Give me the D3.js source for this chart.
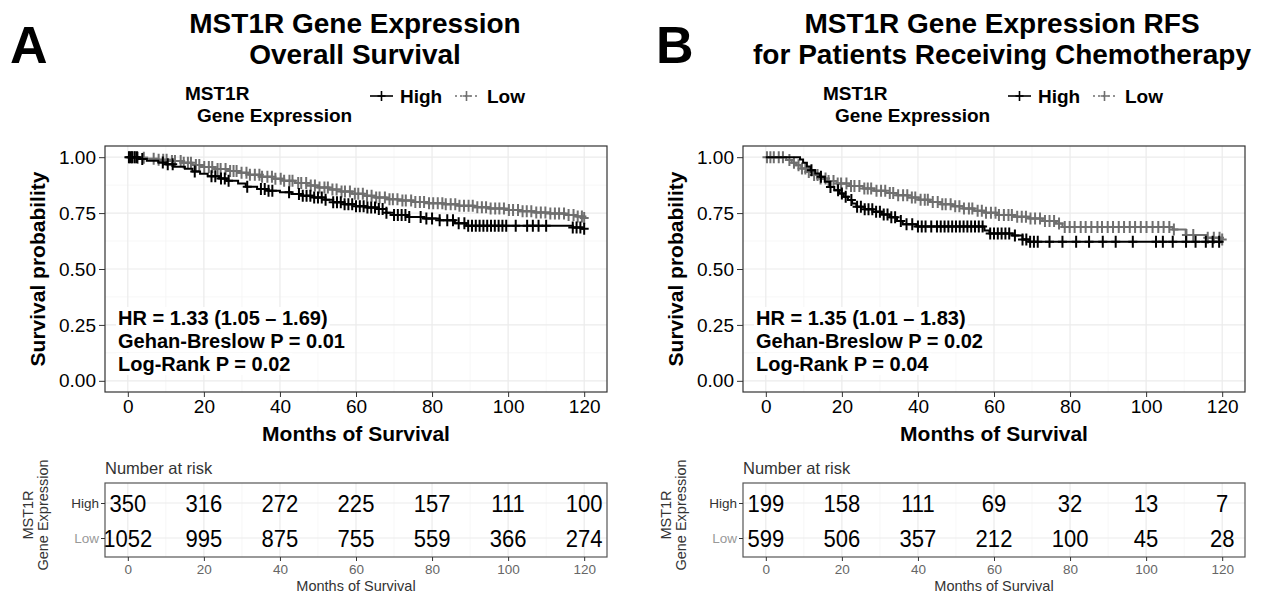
<!DOCTYPE html>
<html lang="en">
<head>
<meta charset="UTF-8">
<title>MST1R Gene Expression - Kaplan-Meier</title>
<script src="https://d3js.org/d3.v7.min.js"></script>
<style>
    body { margin: 0; background: #fff; }
    svg { font-family: Arial, "Liberation Sans", sans-serif; display: block; }
</style>
</head>
<body>
<svg id="chart" width="1266" height="597"></svg>
<script>
// ---- shared ----
const months = [0, 20, 40, 60, 80, 100, 120];
const minorMonths = [10, 30, 50, 70, 90, 110];
const survTicks = [0, 0.25, 0.5, 0.75, 1];
const minorSurv = [0.125, 0.375, 0.625, 0.875];
const groups = ["High", "Low"];

// ---- panel A: overall survival ----
const aTitle = ["MST1R Gene Expression", "Overall Survival"];
const aStats = ["HR = 1.33 (1.05 \u2013 1.69)", "Gehan-Breslow  P = 0.01", "Log-Rank P = 0.02"];
const aHighSteps = [[0,1],[3,0.992],[5,0.984],[8,0.976],[10,0.968],[12,0.957],[15,0.948],[17,0.936],[19,0.926],[21,0.915],[24,0.905],[26,0.895],[29,0.882],[31,0.868],[34,0.858],[37,0.85],[40,0.843],[43,0.835],[46,0.828],[49,0.82],[52,0.81],[54,0.798],[57,0.79],[60,0.781],[63,0.775],[66,0.768],[68,0.752],[70,0.741],[74,0.733],[78,0.726],[82,0.718],[86,0.705],[89,0.693],[117,0.686],[119.5,0.68],[120,0.68]];
const aLowSteps = [[0,1],[2,0.998],[5,0.993],[8,0.989],[11,0.983],[14,0.975],[17,0.965],[20,0.956],[23,0.947],[26,0.938],[29,0.93],[32,0.922],[35,0.913],[38,0.904],[41,0.895],[44,0.885],[47,0.873],[50,0.864],[53,0.855],[56,0.846],[59,0.837],[62,0.828],[65,0.82],[68,0.812],[71,0.806],[75,0.8],[79,0.794],[83,0.789],[87,0.783],[91,0.776],[95,0.77],[99,0.764],[103,0.758],[107,0.753],[111,0.748],[115,0.742],[118,0.735],[120,0.728]];
const aHighCensor = [0.3,0.8,1.2,1.8,2.4,3.8,9.2,10.5,11.8,17.6,22,23,24.5,25.5,26.5,31.4,35,36,37,38,42.4,45,46,47,48,49,50,51,52,54,55,56,57,58,59,60,61,62,63,64,65,66,67,68,70,71,72,73,74,77,78.5,80,82,84,85.5,87,88.5,89.5,90.5,91.5,92.5,93.5,94.5,95.5,96.5,97.5,98.5,99.5,102,105,106.5,108,110,117,118,119,120];
const aLowCensor = [0.4,1.1,1.9,2.6,4.2,6.8,8.1,9.3,10.2,11.6,12.4,13.9,14.7,15.8,16.6,17.9,18.8,20.1,21.3,22.2,23.6,24.4,25.7,26.9,27.8,28.6,29.9,31.2,32.1,33.4,34.6,35.3,36.7,37.9,38.8,40.2,41.1,42.5,43.3,44.8,45.6,46.9,48.1,49.2,50.4,51.7,52.6,53.8,54.9,56.2,57.1,58.4,59.7,60.6,61.8,62.9,64.1,65.3,66.2,67.6,68.8,69.7,70.9,72.2,73.1,74.5,75.6,76.8,77.9,79.2,80.3,81.5,82.7,83.6,84.9,86.1,87.2,88.4,89.6,90.7,91.9,93.1,94.2,95.4,96.6,97.7,98.9,100.2,101.3,102.6,103.8,104.9,106.1,107.4,108.6,109.8,111.1,112.3,113.4,114.7,115.9,117.2,118.3,119.4,120];
const aRiskHigh = [350, 316, 272, 225, 157, 111, 100];
const aRiskLow = [1052, 995, 875, 755, 559, 366, 274];

// ---- panel B: RFS, chemotherapy ----
const bTitle = ["MST1R Gene Expression RFS", "for Patients Receiving Chemotherapy"];
const bStats = ["HR = 1.35 (1.01 \u2013 1.83)", "Gehan-Breslow  P = 0.02", "Log-Rank P = 0.04"];
const bHighSteps = [[0,1],[9,0.99],[9.8,0.975],[10.8,0.958],[11.8,0.942],[13,0.927],[14.2,0.912],[15.5,0.89],[16.8,0.867],[18,0.852],[19.4,0.838],[20.5,0.823],[21.6,0.808],[22.7,0.793],[23.8,0.778],[26,0.767],[28.1,0.756],[30.5,0.744],[32.6,0.731],[34.5,0.715],[36,0.7],[39.6,0.69],[57.5,0.672],[58.8,0.659],[64.9,0.65],[67.5,0.632],[69.3,0.622],[120,0.622]];
const bLowSteps = [[0,1],[5.4,0.987],[6.8,0.975],[8,0.964],[9.3,0.949],[10.7,0.934],[12.4,0.92],[14.2,0.905],[16.4,0.893],[18.6,0.882],[22,0.871],[25.6,0.86],[28.5,0.85],[31.5,0.84],[34.4,0.83],[37.3,0.82],[40.2,0.81],[43.2,0.8],[46.1,0.79],[49,0.781],[51.9,0.771],[54.8,0.761],[57.8,0.751],[60.7,0.741],[65,0.734],[69.3,0.726],[72.8,0.715],[76.3,0.704],[78,0.688],[107,0.677],[110.4,0.652],[116,0.64],[120,0.632]];
const bHighCensor = [12,14.5,17,19,20,21,22.5,24,25,26,27,28,29,30,31,32,33,34,35.5,37,38.5,40,41,42,43.5,45,46,47,48,49,50,51,52,53,54,55,56,57,59,60,61,62,63,64,65.5,67.5,68.5,69.5,70.5,71.5,74.6,78,81.6,85,88.6,92,96.5,102.6,104.4,107,110.5,113,115.7,117.5,119.2];
const bLowCensor = [0.3,1.2,2.1,3.4,4.5,6.2,7.4,8.6,9.5,10.4,11.3,12.7,13.6,14.4,15.7,16.5,17.8,18.9,19.8,21.2,22.4,23.3,24.6,25.9,26.8,27.7,29.1,30.3,31.4,32.6,33.5,34.8,36.1,37.2,38.4,39.3,40.7,41.8,42.6,43.9,45.2,46.4,47.3,48.6,49.8,50.9,52.1,53.4,54.3,55.7,56.8,57.9,59.2,60.4,61.3,62.6,63.8,64.7,66.1,67.3,68.4,69.6,70.8,72.1,73.4,74.6,75.8,77.1,78.6,79.9,81.2,82.8,84.1,85.6,87.2,88.4,89.9,91.3,92.8,94.2,95.7,97.1,98.6,100.1,101.7,103.2,104.6,106.1,107.3,110.6,112.4,116.2,117.8,119.3,120];
const bRiskHigh = [199, 158, 111, 69, 32, 13, 7];
const bRiskLow = [599, 506, 357, 212, 100, 45, 28];

const colors = { High: "#000000", Low: "#6f6f6f" };
const gridMajor = "#ebebeb", gridMinor = "#f5f5f5", border = "#333333";

const svg = d3.select("#chart");

function survAt(steps, t) {
    let s = steps[0][1];
    steps.forEach(d => { if (d[0] <= t) s = d[1]; });
    return s;
}

function drawPanel(p) {
    const L = p.left, W = 502;
    const x = d3.scaleLinear().domain([-6, 126]).range([L, L + W]);
    const y = d3.scaleLinear().domain([-0.05, 1.05]).range([392, 146]);
    const g = svg.append("g");

    // panel letter + title
    svg.append("text").attr("x", p.letterX).attr("y", 63)
        .attr("font-size", 52).attr("font-weight", "bold").text(p.letter);
    p.title.forEach((t, i) => {
        svg.append("text").attr("x", p.titleX).attr("y", 33 + i * 31)
            .attr("text-anchor", "middle").attr("font-size", 28)
            .attr("font-weight", "bold").text(t);
    });

    // legend
    const lg = svg.append("g").attr("font-weight", "bold").attr("font-size", 19);
    lg.append("text").attr("x", L + 80).attr("y", 100).text("MST1R");
    lg.append("text").attr("x", L + 92).attr("y", 122).text("Gene Expression");
    [["High", L + 265, L + 295], ["Low", L + 350, L + 382]].forEach(([k, kx, tx]) => {
        lg.append("line").attr("x1", kx).attr("x2", kx + 23).attr("y1", 96).attr("y2", 96)
            .attr("stroke", colors[k]).attr("stroke-width", 1.6)
            .attr("stroke-dasharray", k === "Low" ? "2,3" : null);
        lg.append("path").attr("d", `M${kx + 7.5},96H${kx + 15.5}M${kx + 11.5},91V101`)
            .attr("stroke", colors[k]).attr("stroke-width", 1.6);
        lg.append("text").attr("x", tx).attr("y", 103).text(k);
    });

    // grid
    g.append("rect").attr("x", L).attr("y", 146).attr("width", W).attr("height", 246).attr("fill", "#fff");
    minorMonths.forEach(m => g.append("line").attr("x1", x(m)).attr("x2", x(m)).attr("y1", 146).attr("y2", 392)
        .attr("stroke", gridMinor).attr("stroke-width", 0.8));
    minorSurv.forEach(s => g.append("line").attr("x1", L).attr("x2", L + W).attr("y1", y(s)).attr("y2", y(s))
        .attr("stroke", gridMinor).attr("stroke-width", 0.8));
    months.forEach(m => g.append("line").attr("x1", x(m)).attr("x2", x(m)).attr("y1", 146).attr("y2", 392)
        .attr("stroke", gridMajor).attr("stroke-width", 1.2));
    survTicks.forEach(s => g.append("line").attr("x1", L).attr("x2", L + W).attr("y1", y(s)).attr("y2", y(s))
        .attr("stroke", gridMajor).attr("stroke-width", 1.2));

    // curves: Low first, High on top
    const line = d3.line().x(d => x(d[0])).y(d => y(d[1])).curve(d3.curveStepAfter);
    [["Low", p.lowSteps, p.lowCensor], ["High", p.highSteps, p.highCensor]].forEach(([k, steps, cens]) => {
        g.append("path").datum(steps).attr("d", line).attr("fill", "none")
            .attr("stroke", colors[k]).attr("stroke-width", 2);
        g.selectAll(null).data(cens).enter().append("path")
            .attr("transform", t => `translate(${x(t)},${y(survAt(steps, t))})`)
            .attr("d", "M-4.5,0H4.5M0,-6V6")
            .attr("stroke", colors[k]).attr("stroke-width", 2).attr("fill", "none");
    });

    // stats annotation with white label background
    p.stats.forEach((s, i) => {
        const t = g.append("text").attr("x", L + 13).attr("y", 325 + i * 23)
            .attr("font-size", 20).attr("font-weight", "bold").text(s);
        const bb = t.node().getBBox();
        g.insert("rect", () => t.node()).attr("x", bb.x - 2).attr("y", bb.y)
            .attr("width", bb.width + 4).attr("height", bb.height).attr("fill", "#fff");
    });

    g.append("rect").attr("x", L).attr("y", 146).attr("width", W).attr("height", 246)
        .attr("fill", "none").attr("stroke", border).attr("stroke-width", 1.2);

    // axes
    const xAxis = d3.axisBottom(x).tickValues(months).tickSize(5).tickPadding(3);
    const ax = svg.append("g").attr("transform", "translate(0,392)").call(xAxis);
    ax.select(".domain").remove();
    ax.selectAll("line").attr("stroke", border);
    ax.selectAll("text").attr("font-size", 19).attr("fill", "#000").attr("font-family", null);

    const yAxis = d3.axisLeft(y).tickValues(survTicks).tickFormat(d3.format(".2f")).tickSize(6).tickPadding(3);
    const ay = svg.append("g").attr("transform", `translate(${L},0)`).call(yAxis);
    ay.select(".domain").remove();
    ay.selectAll("line").attr("stroke", border);
    ay.selectAll("text").attr("font-size", 19).attr("fill", "#000").attr("font-family", null);

    svg.append("text").attr("x", L + W / 2).attr("y", 441).attr("text-anchor", "middle")
        .attr("font-size", 21).attr("font-weight", "bold").text("Months of Survival");
    svg.append("text").attr("transform", `translate(${L - 60},269) rotate(-90)`)
        .attr("text-anchor", "middle").attr("font-size", 21).attr("font-weight", "bold")
        .text("Survival probability");

    // ---- number at risk table ----
    const top = 483, bottom = 557;
    const ry = d3.scalePoint().domain(groups).range([503, 538]);
    const tg = svg.append("g");
    tg.append("text").attr("x", L).attr("y", 474).attr("font-size", 16.5).attr("fill", "#333")
        .text("Number at risk");
    minorMonths.forEach(m => tg.append("line").attr("x1", x(m)).attr("x2", x(m)).attr("y1", top).attr("y2", bottom)
        .attr("stroke", gridMinor).attr("stroke-width", 0.8));
    months.forEach(m => tg.append("line").attr("x1", x(m)).attr("x2", x(m)).attr("y1", top).attr("y2", bottom)
        .attr("stroke", gridMajor).attr("stroke-width", 1.2));
    groups.forEach(k => tg.append("line").attr("x1", L).attr("x2", L + W).attr("y1", ry(k)).attr("y2", ry(k))
        .attr("stroke", gridMajor).attr("stroke-width", 1.2));
    // numbers are slightly condensed in the reference
    [["High", p.riskHigh], ["Low", p.riskLow]].forEach(([k, vals]) => {
        tg.selectAll(null).data(vals).enter().append("text")
            .attr("transform", (v, i) => `translate(${x(months[i])},${ry(k)}) scale(0.9,1)`)
            .attr("dy", "0.36em")
            .attr("text-anchor", "middle").attr("font-size", 24.5).attr("fill", "#000")
            .text(v => v);
    });
    tg.append("rect").attr("x", L).attr("y", top).attr("width", W).attr("height", bottom - top)
        .attr("fill", "none").attr("stroke", "#555").attr("stroke-width", 1.2);

    const ty = d3.axisLeft(ry).tickSize(4).tickPadding(2);
    const aty = tg.append("g").attr("transform", `translate(${L},0)`).call(ty);
    aty.select(".domain").remove();
    aty.selectAll("line").attr("stroke", border);
    aty.selectAll("text").attr("font-size", 13.5).attr("font-family", null)
        .attr("fill", k => k === "High" ? "#333" : "#999");

    const tx = d3.axisBottom(x).tickValues(months).tickSize(4).tickPadding(3);
    const atx = tg.append("g").attr("transform", `translate(0,${bottom})`).call(tx);
    atx.select(".domain").remove();
    atx.selectAll("line").attr("stroke", border);
    atx.selectAll("text").attr("font-size", 13.5).attr("fill", "#666").attr("font-family", null);

    tg.append("text").attr("x", L + W / 2).attr("y", 591).attr("text-anchor", "middle")
        .attr("font-size", 14.5).attr("fill", "#333").text("Months of Survival");
    tg.append("text").attr("transform", `translate(${L - 72},515) rotate(-90)`)
        .attr("text-anchor", "middle").attr("font-size", 14.5).attr("fill", "#333").text("MST1R");
    tg.append("text").attr("transform", `translate(${L - 57},515) rotate(-90)`)
        .attr("text-anchor", "middle").attr("font-size", 14.5).attr("fill", "#333").text("Gene Expression");
}

drawPanel({
    left: 105, letter: "A", letterX: 10, titleX: 355, title: aTitle, stats: aStats,
    highSteps: aHighSteps, lowSteps: aLowSteps, highCensor: aHighCensor, lowCensor: aLowCensor,
    riskHigh: aRiskHigh, riskLow: aRiskLow
});
drawPanel({
    left: 743, letter: "B", letterX: 656, titleX: 1002, title: bTitle, stats: bStats,
    highSteps: bHighSteps, lowSteps: bLowSteps, highCensor: bHighCensor, lowCensor: bLowCensor,
    riskHigh: bRiskHigh, riskLow: bRiskLow
});
</script>
</body>
</html>
